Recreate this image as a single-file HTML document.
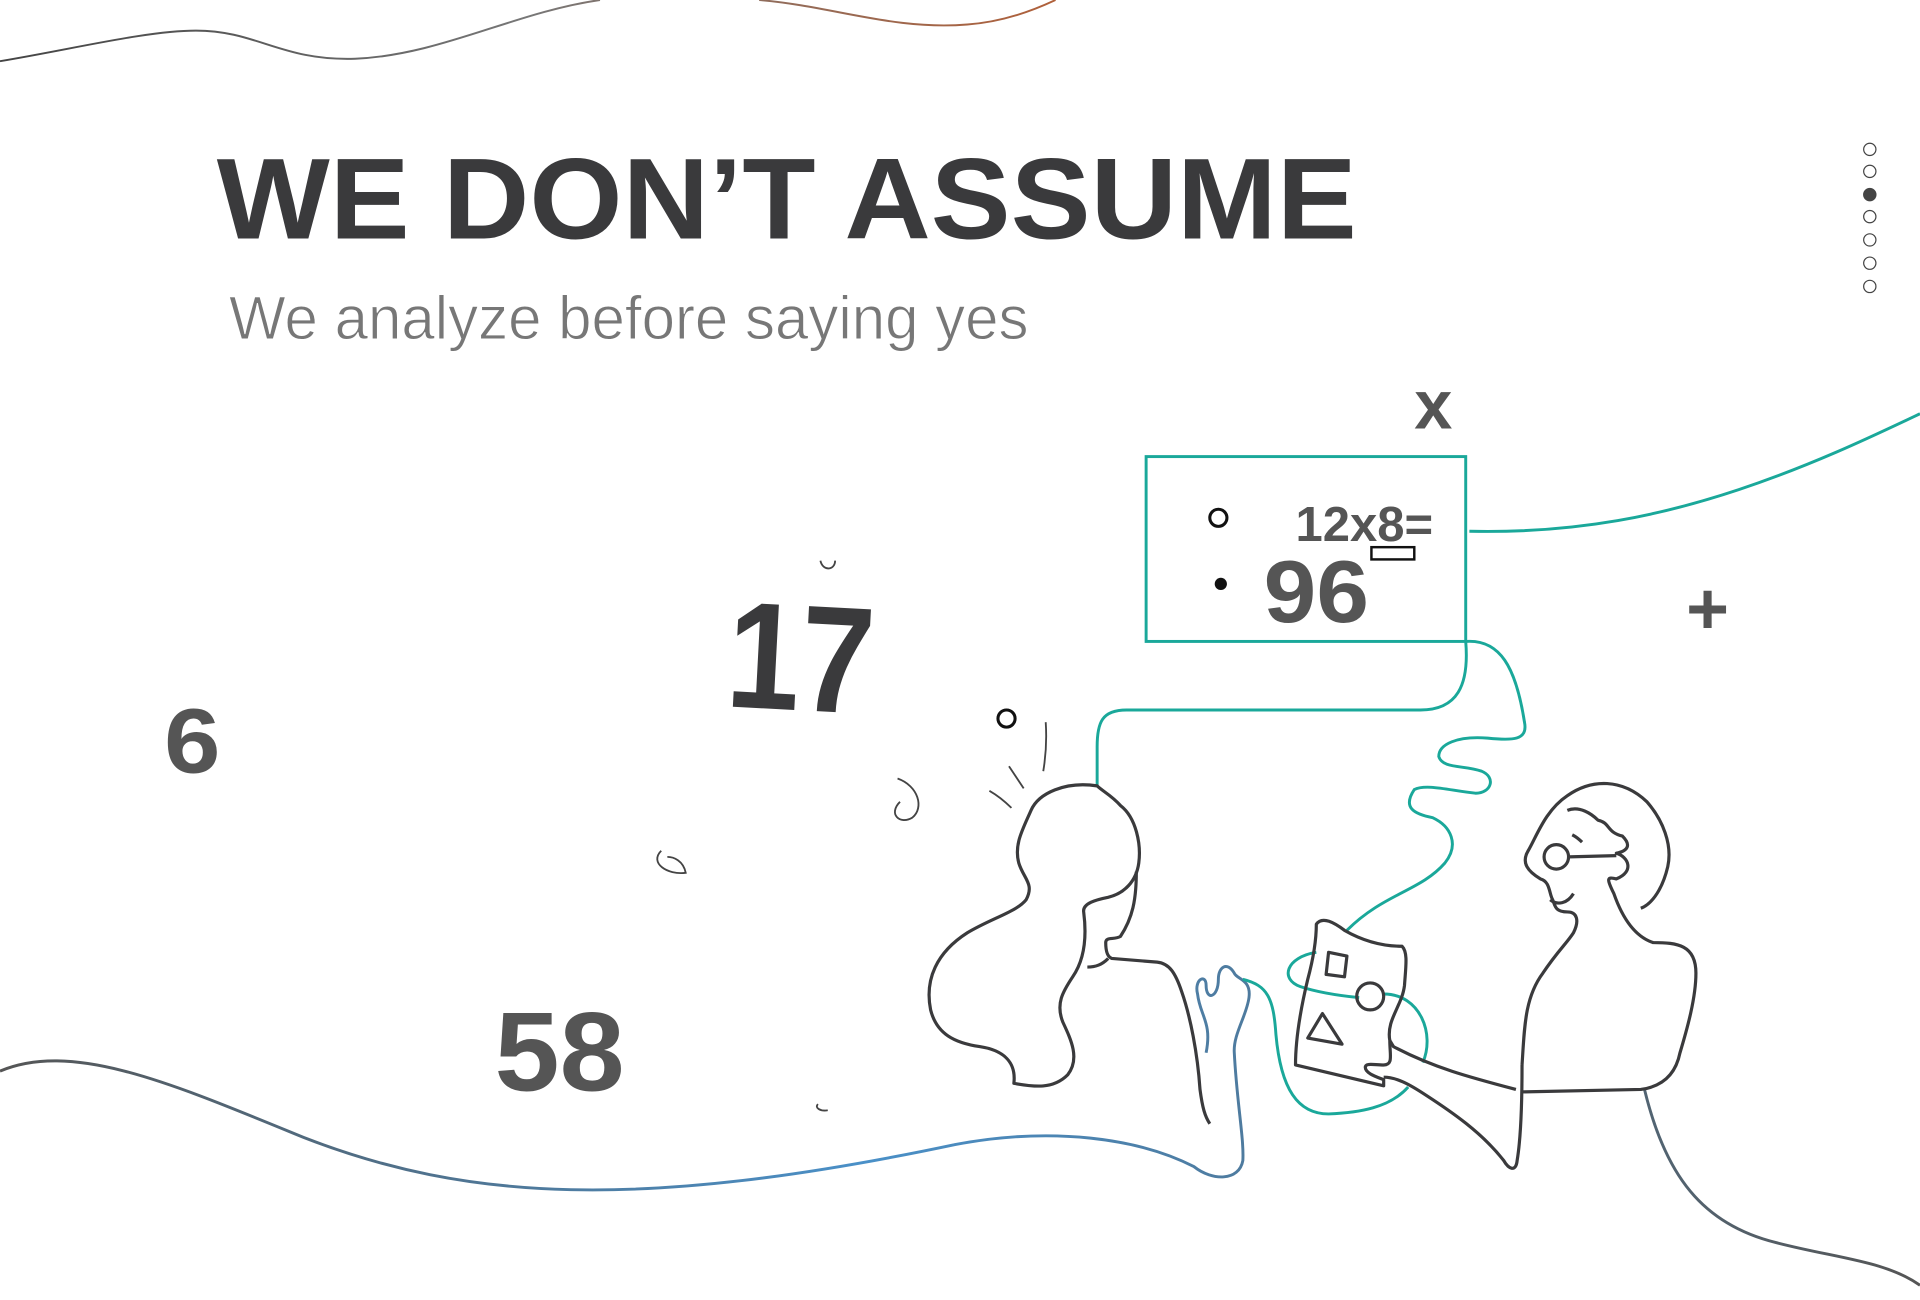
<!DOCTYPE html>
<html><head><meta charset="utf-8"><style>
html,body{margin:0;padding:0;background:#fff;width:1920px;height:1300px;overflow:hidden}
svg{display:block}
text{font-family:"Liberation Sans",sans-serif}
</style></head><body>
<svg width="1920" height="1300" viewBox="0 0 1568 1062" preserveAspectRatio="none" xmlns="http://www.w3.org/2000/svg">
<defs>
<linearGradient id="gtop" x1="0" x2="1"><stop offset="0" stop-color="#444"/><stop offset="0.5" stop-color="#777"/><stop offset="1" stop-color="#b0603a"/></linearGradient>
<linearGradient id="gbot" x1="0" x2="1"><stop offset="0" stop-color="#555"/><stop offset="0.45" stop-color="#4a90c8"/><stop offset="1" stop-color="#555"/></linearGradient>
</defs>
<path d="M0,50 C60,40 120,25 160,25 C210,25 230,50 290,48 C360,45 420,10 490,0 M620,0 C680,5 730,25 790,20 C820,18 845,8 862,0" fill="none" stroke="url(#gtop)" stroke-width="1.6"/>
<path d="M0,875 C60,850 140,885 250,930 C380,980 520,990 780,935 C860,920 930,930 975,953 C990,965 1012,965 1015,948 C1016,930 1010,900 1008,860 C1007,845 1018,830 1020,815 C1022,800 1010,800 1008,795 C1002,785 995,790 995,800 C995,815 985,818 985,805 C985,795 975,800 978,812 C980,830 990,835 985,860 M1343,890 C1360,960 1390,1000 1450,1015 C1500,1028 1540,1030 1568,1050" fill="none" stroke="url(#gbot)" stroke-width="2.4"/>
<path d="M1200,434 C1290,436 1360,420 1420,400 C1480,380 1530,356 1568,338" fill="none" stroke="#1aa89a" stroke-width="2.4"/>
<text x="177" y="195" font-size="94" font-weight="bold" fill="#3a3a3c" textLength="931" lengthAdjust="spacingAndGlyphs">WE DON’T ASSUME</text>
<text x="187" y="277" font-size="50" fill="#777" textLength="653" lengthAdjust="spacingAndGlyphs" stroke="#fff" stroke-width="0.8">We analyze before saying yes</text>
<g fill="none" stroke="#444" stroke-width="1">
<circle cx="1527" cy="122" r="5"/><circle cx="1527" cy="140" r="5"/><circle cx="1527" cy="159" r="5" fill="#444"/><circle cx="1527" cy="177" r="5"/><circle cx="1527" cy="196" r="5"/><circle cx="1527" cy="215" r="5"/><circle cx="1527" cy="234" r="5"/>
</g>
<text x="594" y="580" font-size="124" font-weight="bold" fill="#3a3a3c" textLength="120" lengthAdjust="spacingAndGlyphs" transform="rotate(3 650 535)">17</text>
<text x="134" y="631" font-size="75" font-weight="bold" fill="#555" textLength="46" lengthAdjust="spacingAndGlyphs">6</text>
<text x="404" y="891" font-size="92" font-weight="bold" fill="#555" textLength="106" lengthAdjust="spacingAndGlyphs">58</text>
<text x="1155" y="350" font-size="56" font-weight="bold" fill="#555">x</text>
<text x="1377" y="518" font-size="60" font-weight="bold" fill="#555">+</text>
<rect x="936" y="373" width="261" height="151" fill="none" stroke="#1aa89a" stroke-width="2.4"/>
<text x="1058" y="442" font-size="40" font-weight="bold" fill="#555">12x8=</text>
<text x="1032" y="508" font-size="72" font-weight="bold" fill="#555" textLength="86" lengthAdjust="spacingAndGlyphs">96</text>
<rect x="1120" y="447" width="35" height="10" fill="none" stroke="#111" stroke-width="2"/>
<circle cx="995" cy="423" r="7" fill="none" stroke="#111" stroke-width="2.5"/>
<circle cx="997" cy="477" r="5" fill="#111"/>
<circle cx="822" cy="587" r="7" fill="none" stroke="#111" stroke-width="2.5"/>
<g fill="none" stroke="#444" stroke-width="1.5">
<path d="M854,590 C855,605 854,618 852,630 M824,626 L836,644 M808,646 C815,650 820,654 826,660"/>
<path d="M733,636 C750,642 755,660 745,668 C735,674 725,665 735,655"/>
<path d="M540,695 C530,705 545,715 560,713 C558,703 550,700 545,700"/>
<path d="M670,458 C672,467 682,466 682,458 M668,902 C665,905 670,908 676,907"/>
</g>
<g fill="none" stroke="#1aa89a" stroke-width="2.4">
<path d="M1197,524 C1200,560 1190,580 1160,580 L920,580 C900,580 896,590 896,610 L896,642"/>
<path d="M1197,524 C1225,522 1238,545 1245,590 C1248,605 1235,605 1215,603 C1190,601 1175,608 1175,618 C1178,628 1195,625 1210,630 C1222,635 1218,648 1205,648 C1185,646 1165,640 1155,645 C1145,660 1155,665 1170,668 C1185,675 1192,690 1180,705 C1160,728 1130,730 1100,760"/>
<path d="M1075,778 C1050,782 1045,800 1062,806 C1080,812 1100,814 1110,815 M1130,812 C1160,812 1172,845 1162,868"/>
<path d="M1015,800 C1035,805 1040,815 1042,845 C1046,890 1060,910 1085,910 C1110,909 1135,905 1150,888"/>
</g>
<g fill="none" stroke="#3a3a3c" stroke-width="2.6" stroke-linejoin="round">
<path d="M896,642 C870,638 848,648 842,662 C835,678 828,690 832,705 C836,718 845,722 838,735 C830,745 810,750 790,762 C765,778 755,800 760,825 C765,845 780,852 800,855 C820,858 830,868 828,885 C845,888 860,890 872,878 C882,865 875,850 868,835 C862,820 868,810 876,798 C885,785 888,768 885,745 C884,738 895,735 905,733 C918,730 928,720 930,705 C932,690 928,668 915,658 C908,650 900,646 896,642 Z"/>
<path d="M928,712 C928,735 925,750 915,765 C910,768 903,765 903,770 C903,778 905,782 908,783 L945,786 C955,787 960,795 965,810 C972,830 978,860 980,890 C982,905 984,912 988,918"/>
<path d="M888,790 C895,790 900,788 905,783"/>
</g>
<g fill="none" stroke="#3a3a3c" stroke-width="2.6" stroke-linejoin="round">
<path d="M1243,870 C1245,840 1245,815 1260,795 C1272,777 1280,770 1285,762 C1290,752 1288,745 1280,745 C1270,745 1270,740 1268,735 C1265,730 1266,720 1258,718 C1248,712 1242,705 1248,695 C1255,683 1262,662 1280,650 C1300,636 1325,636 1345,655 C1358,670 1366,690 1362,708 C1358,725 1350,738 1340,742"/>
<path d="M1280,662 C1290,658 1300,665 1305,670 C1315,672 1312,680 1325,683 C1332,690 1330,695 1320,697 C1330,700 1335,712 1320,718 C1312,716 1312,718 1318,730 C1325,750 1335,765 1350,770 C1370,770 1385,772 1385,795 C1385,815 1378,840 1372,860 C1368,880 1355,888 1340,890 L1243,892"/>
<circle cx="1271" cy="700" r="10"/>
<path d="M1281,700 L1320,699 M1266,735 C1272,740 1280,738 1285,730 M1284,682 C1288,684 1290,686 1292,688"/>
<path d="M1243,870 C1243,900 1242,930 1239,948 C1238,958 1232,955 1228,948 C1210,925 1185,908 1165,895 C1150,885 1140,880 1130,880"/>
<path d="M1238,890 C1200,880 1170,872 1138,855 L1135,850"/>
<path d="M1075,755 C1080,748 1090,754 1098,760 C1112,768 1128,773 1145,773 C1150,778 1148,790 1147,805 C1145,822 1132,833 1135,850 C1135,862 1138,870 1130,870 C1122,870 1115,868 1115,872 C1115,877 1125,880 1130,882 L1130,887 L1058,870 C1058,850 1062,825 1068,800 C1072,785 1075,770 1075,755 Z"/>
<path d="M1085,778 L1100,781 L1098,798 L1083,796 Z"/>
<circle cx="1119" cy="814" r="11"/>
<path d="M1080,828 L1068,848 L1096,853 Z"/>
</g>
</svg>
</body></html>
